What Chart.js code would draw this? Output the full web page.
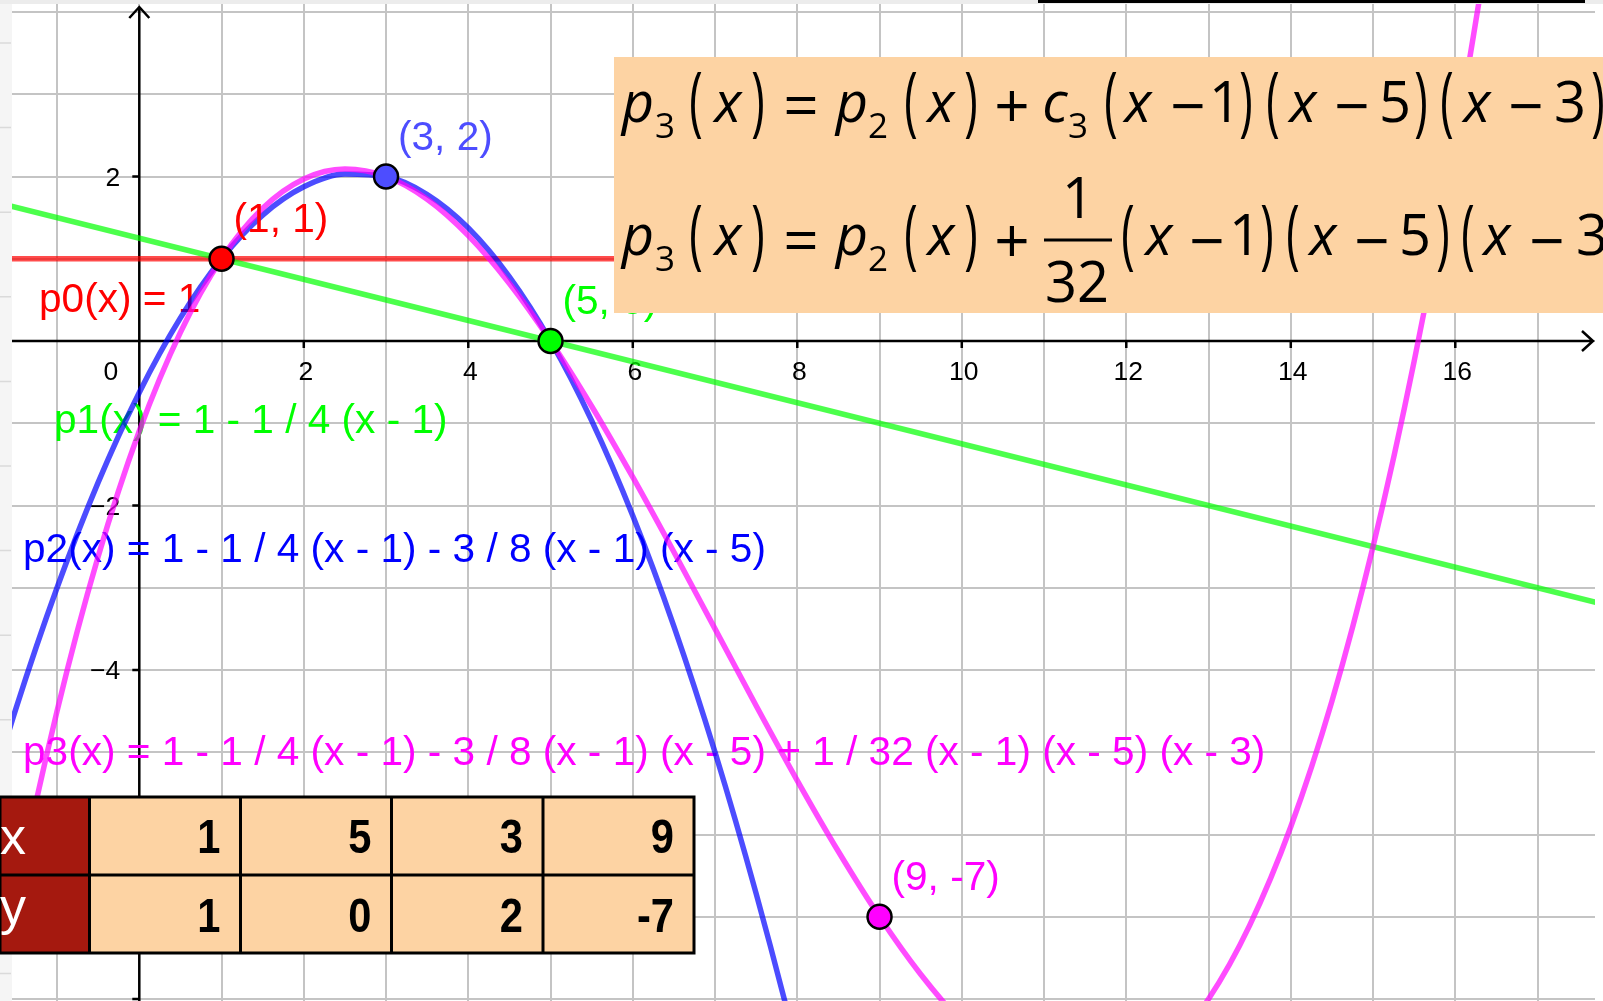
<!DOCTYPE html>
<html>
<head>
<meta charset="utf-8">
<title>Newton interpolation</title>
<script src="https://cdn.jsdelivr.net/npm/chart.js@4.4.1/dist/chart.umd.min.js"></script>
<style>
    html, body { margin: 0; padding: 0; background: #fff; overflow: hidden; }
    canvas { display: block; }
</style>
</head>
<body>
<canvas id="myChart" width="1603" height="1001"></canvas>
<script>
// -- Data --
// interpolation nodes (the table)
const nodesX = [1, 5, 3, 9];
const nodesY = [1, 0, 2, -7];

// values, every 0.5 on x
const sampleX = [-2, -1.5, -1, -0.5, 0, 0.5, 1, 1.5, 2, 2.5, 3, 3.5, 4, 4.5, 5, 5.5, 6, 6.5, 7, 7.5,
    8, 8.5, 9, 9.5, 10, 10.5, 11, 11.5, 12, 12.5, 13, 13.5, 14, 14.5, 15, 15.5, 16, 16.5, 17];
const p2Values = [-6.125, -4.469, -3, -1.719, -0.625, 0.281, 1, 1.531, 1.875, 2.031, 2, 1.781, 1.375, 0.781, 0, -0.969, -2.125, -3.469, -5, -6.719,
    -8.625, -10.719, -13, -15.469, -18.125, -20.969, -24, -27.219, -30.625, -34.219, -38, -41.969, -46.125, -50.469, -55, -59.719, -64.625, -69.719, -75];
const p3Values = [-9.406, -6.754, -4.5, -2.621, -1.094, 0.105, 1, 1.613, 1.969, 2.090, 2, 1.723, 1.281, 0.699, 0, -0.793, -1.656, -2.566, -3.5, -4.434,
    -5.344, -6.207, -7, -7.699, -8.281, -8.723, -9, -9.090, -8.969, -8.613, -8, -7.105, -5.906, -4.379, -2.5, -0.246, 2.406, 5.480, 9];

// the two straight lines
const lineX = [-2, 18];
const p0Values = [1, 1];
const p1Values = [1.75, -3.25];

// axis ticks
const xTickValues = [2, 4, 6, 8, 10, 12, 14, 16];
const yTickValues = [2, -2, -4, -6, -8];
const yTickLabels = ['2', '\u22122', '\u22124', '\u22126', ''];

// texts
const functionLabels = [
    'p0(x) = 1',
    'p1(x) = 1 - 1 / 4 (x - 1)',
    'p2(x) = 1 - 1 / 4 (x - 1) - 3 / 8 (x - 1) (x - 5)',
    'p3(x) = 1 - 1 / 4 (x - 1) - 3 / 8 (x - 1) (x - 5) + 1 / 32 (x - 1) (x - 5) (x - 3)'
];
const tableRowNames = ['x', 'y'];

// -- Styles / layout --
const X_MIN = -1.6936, X_MAX = 17.796, Y_MIN = -8.0243, Y_MAX = 4.1459;
const lineColors = ['rgba(255,0,0,0.7)', 'rgba(0,255,0,0.7)', 'rgba(0,0,255,0.7)', 'rgba(255,0,255,0.7)'];
const labelColors = ['#ff0000', '#00ff00', '#0000ff', '#ff00ff'];
const labelSpots = [[39, 312], [54, 433], [23, 562], [23, 765]];   // left, baseline
const pointColors = ['#ff0000', '#00ff00', '#4d4dff', '#ff00ff'];  // same order as nodes
const LABEL_FONT = '40.6px "Liberation Sans", Arial, sans-serif';
const TICK_FONT = '26.5px "Liberation Sans", Arial, sans-serif';
const BOX_COLOR = '#fdd3a3';
const HEAD_COLOR = '#a5190f';

// formula box: [text, centre x, kind]  kind: v = variable, n = number, s = subscript, o = operator, p = paren
const formulaHead = [['p', 638, 'v'], ['3', 665, 's'], ['(', 696, 'p'], ['x', 728, 'v'], [')', 758, 'p'], ['=', 801, 'o'],
    ['p', 852, 'v'], ['2', 878, 's'], ['(', 911, 'p'], ['x', 941, 'v'], [')', 971, 'p'], ['+', 1012, 'o']];
const formulaLines = [
    { base: 122, opY: 106, tokens: formulaHead.concat([['c', 1055, 'v'], ['3', 1078, 's'],
        ['(', 1111, 'p'], ['x', 1138, 'v'], ['\u2212', 1188, 'o'], ['1', 1225, 'n'], [')', 1246, 'p'],
        ['(', 1273, 'p'], ['x', 1303, 'v'], ['\u2212', 1352, 'o'], ['5', 1395, 'n'], [')', 1421, 'p'],
        ['(', 1447, 'p'], ['x', 1477, 'v'], ['\u2212', 1526, 'o'], ['3', 1570, 'n'], [')', 1598, 'p']]) },
    { base: 255, opY: 241, tokens: formulaHead.concat([
        ['(', 1128, 'p'], ['x', 1159, 'v'], ['\u2212', 1207, 'o'], ['1', 1245, 'n'], [')', 1267, 'p'],
        ['(', 1293, 'p'], ['x', 1323, 'v'], ['\u2212', 1372, 'o'], ['5', 1415, 'n'], [')', 1443, 'p'],
        ['(', 1468, 'p'], ['x', 1497, 'v'], ['\u2212', 1547, 'o'], ['3', 1592, 'n']]) }
];

function pairs(xs, ys) {
    return xs.map((x, i) => ({ x: x, y: ys[i] }));
}

function drawToken(c, t, cx, kind, line) {
    c.save();
    if (kind === 'p') {
        c.translate(cx, line.base + 5);
        c.scale(0.6, 1);
        c.font = '76px "Open Sans"';
        c.fillText(t, 0, 0);
    } else if (kind === 'v') {
        c.font = 'italic 56px "Open Sans"';
        c.fillText(t, cx, line.base);
    } else if (kind === 'n') {
        c.font = '56px "Open Sans"';
        c.fillText(t, cx, line.base);
    } else if (kind === 's') {
        c.font = '35px "Open Sans"';
        c.fillText(t, cx, line.base + 16);
    } else {
        c.font = '62px "Open Sans"';
        c.fillText(t, cx, line.opY + 22);
    }
    c.restore();
}

const geoPlugin = {
    id: 'geo',
    beforeDatasetsDraw(chart) {
        const c = chart.ctx;
        const sx = chart.scales.x, sy = chart.scales.y;
        const x0 = sx.getPixelForValue(0), y0 = sy.getPixelForValue(0);
        c.save();
        // axes + arrows
        c.strokeStyle = '#000';
        c.lineWidth = 2.5;
        c.beginPath();
        c.moveTo(12, y0); c.lineTo(1593, y0);
        c.moveTo(x0, 1001); c.lineTo(x0, 7);
        c.moveTo(1582, y0 - 10); c.lineTo(1593, y0); c.lineTo(1582, y0 + 10);
        c.moveTo(x0 - 10, 18); c.lineTo(x0, 7); c.lineTo(x0 + 10, 18);
        xTickValues.forEach(v => {
            const px = sx.getPixelForValue(v);
            c.moveTo(px, y0); c.lineTo(px, y0 + 7);
        });
        yTickValues.forEach(v => {
            const py = sy.getPixelForValue(v);
            c.moveTo(x0 - 7, py); c.lineTo(x0, py);
        });
        c.stroke();

        // tick labels
        c.fillStyle = '#000';
        c.font = TICK_FONT;
        c.textAlign = 'center';
        c.textBaseline = 'alphabetic';
        xTickValues.forEach(v => {
            c.fillText(String(v), sx.getPixelForValue(v) + 2, y0 + 39);
        });
        c.textAlign = 'right';
        c.fillText('0', x0 - 21, y0 + 39);
        c.textBaseline = 'middle';
        yTickValues.forEach((v, i) => {
            c.fillText(yTickLabels[i], x0 - 19, sy.getPixelForValue(v) + 2);
        });

        // function labels
        c.font = LABEL_FONT;
        c.textAlign = 'left';
        c.textBaseline = 'alphabetic';
        functionLabels.forEach((txt, i) => {
            c.fillStyle = labelColors[i];
            c.fillText(txt, labelSpots[i][0], labelSpots[i][1]);
        });
        c.restore();
    },
    afterDatasetsDraw(chart) {
        const c = chart.ctx;
        const sx = chart.scales.x, sy = chart.scales.y;
        c.save();

        // window borders of the graphics view
        c.fillStyle = '#f5f5f5';
        c.fillRect(0, 0, 12, 1001);
        c.strokeStyle = '#dadada';
        c.lineWidth = 1.5;
        c.beginPath();
        for (let y = 43; y < 1001; y += 84.6) {
            c.moveTo(0, y); c.lineTo(11, y);
        }
        c.stroke();
        c.fillStyle = '#ffffff';
        c.fillRect(1595, 0, 8, 1001);
        c.fillStyle = '#ececec';
        c.fillRect(0, 0, 1603, 4);
        c.fillStyle = '#000';
        c.fillRect(1038, 0, 547, 3);

        // point labels
        c.font = LABEL_FONT;
        c.textAlign = 'left';
        c.textBaseline = 'alphabetic';
        nodesX.forEach((x, i) => {
            c.fillStyle = pointColors[i];
            c.fillText('(' + x + ', ' + nodesY[i] + ')', sx.getPixelForValue(x) + 12, sy.getPixelForValue(nodesY[i]) - 27);
        });

        // formula box
        c.fillStyle = BOX_COLOR;
        c.fillRect(614, 57, 989, 256);
        c.fillStyle = '#000';
        c.textAlign = 'center';
        formulaLines.forEach(line => {
            line.tokens.forEach(tk => drawToken(c, tk[0], tk[1], tk[2], line));
        });
        // 1/32 fraction
        c.font = '56px "Open Sans"';
        c.fillText('1', 1078, 218);
        c.fillText('32', 1077, 302);
        c.strokeStyle = '#000';
        c.lineWidth = 3;
        c.beginPath();
        c.moveTo(1044, 240); c.lineTo(1112, 240);
        c.stroke();

        // table of nodes
        const cols = [0, 89.5, 240.5, 391.5, 543, 694];
        const rows = [797, 875, 953];
        const rowVals = [nodesX, nodesY];
        c.fillStyle = HEAD_COLOR;
        c.fillRect(0, rows[0], cols[1], rows[2] - rows[0]);
        c.fillStyle = BOX_COLOR;
        c.fillRect(cols[1], rows[0], cols[5] - cols[1], rows[2] - rows[0]);
        c.lineWidth = 3;
        c.beginPath();
        cols.forEach(x => { c.moveTo(x, rows[0]); c.lineTo(x, rows[2]); });
        rows.forEach(y => { c.moveTo(0, y); c.lineTo(cols[5] + 1.5, y); });
        c.stroke();
        rowVals.forEach((vals, r) => {
            const base = r === 0 ? 853 : 932;
            c.fillStyle = '#fff';
            c.font = '52px "Liberation Sans", Arial, sans-serif';
            c.textAlign = 'left';
            c.fillText(tableRowNames[r], 0, r === 0 ? 854 : 924);
            c.fillStyle = '#000';
            c.font = 'bold 49px "Liberation Sans", Arial, sans-serif';
            c.textAlign = 'right';
            vals.forEach((v, i) => {
                c.save();
                c.translate(cols[i + 2] - 20, base);
                c.scale(0.85, 1);
                c.fillText(String(v), 0, 0);
                c.restore();
            });
        });
        c.restore();
    }
};

const ctx = document.getElementById('myChart');
const myChart = new Chart(ctx, {
    type: 'line',
    data: {
        datasets: [
            {
                label: 'nodes',
                data: pairs(nodesX, nodesY),
                showLine: false,
                pointRadius: 12,
                pointBorderWidth: 2.5,
                pointBorderColor: '#000',
                pointBackgroundColor: pointColors,
                order: 0
            },
            { label: 'p3', data: pairs(sampleX, p3Values), borderColor: lineColors[3], order: 1 },
            { label: 'p2', data: pairs(sampleX, p2Values), borderColor: lineColors[2], order: 2 },
            { label: 'p1', data: pairs(lineX, p1Values), borderColor: lineColors[1], order: 3 },
            { label: 'p0', data: pairs(lineX, p0Values), borderColor: lineColors[0], order: 4 }
        ]
    },
    options: {
        responsive: false,
        animation: false,
        layout: { padding: 0, autoPadding: false },
        plugins: {
            legend: { display: false },
            tooltip: { enabled: false }
        },
        elements: {
            line: {
                borderWidth: 5.5,
                cubicInterpolationMode: 'monotone',
                capBezierPoints: false,
                fill: false
            },
            point: { radius: 0, hoverRadius: 0 }
        },
        scales: {
            x: {
                type: 'linear',
                min: X_MIN,
                max: X_MAX,
                ticks: { display: false, stepSize: 1, includeBounds: false, maxTicksLimit: 100 },
                grid: { color: '#c4c4c4', lineWidth: 2, drawTicks: false },
                border: { display: false },
                afterFit: s => { s.height = 0; }
            },
            y: {
                type: 'linear',
                min: Y_MIN,
                max: Y_MAX,
                ticks: { display: false, stepSize: 1, includeBounds: false, maxTicksLimit: 100 },
                grid: { color: '#c4c4c4', lineWidth: 2, drawTicks: false },
                border: { display: false },
                afterFit: s => { s.width = 0; }
            }
        }
    },
    plugins: [geoPlugin]
});
console.log('chart area', myChart.chartArea);
</script>
</body>
</html>
